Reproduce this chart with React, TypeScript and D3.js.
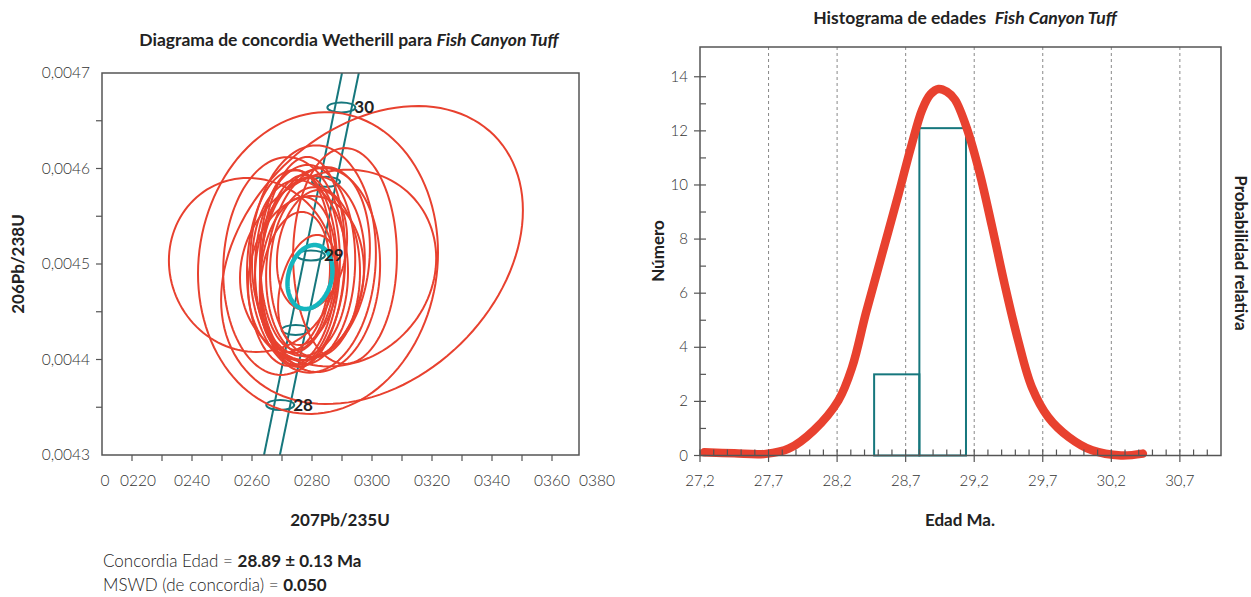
import { useEffect, useRef } from "react";
import * as d3 from "d3";

// ---- Concordia (left) ----
// red error ellipses: centre (207/235, 206/238), half-widths and correlation
const ellCx = [0.0300, 0.0282, 0.0260, 0.02707, 0.02803, 0.0291, 0.02887, 0.0276, 0.02777, 0.02793, 0.02753, 0.0281, 0.0277, 0.02827, 0.02743, 0.02787, 0.0280, 0.0276, 0.027333, 0.0282, 0.0278, 0.027467];
const ellCy = [0.0045094, 0.004501, 0.004499, 0.0044979, 0.0045052, 0.0045084, 0.0044958, 0.0044937, 0.004499, 0.0044958, 0.0044885, 0.0044916, 0.0045021, 0.0044937, 0.0044812, 0.0044728, 0.0045147, 0.0044958, 0.0044958, 0.0045021, 0.0044853, 0.0045042];
const ellSx = [0.00503, 0.0040, 0.00277, 0.00203, 0.0021, 0.00173, 0.00327, 0.00133, 0.00167, 0.00183, 0.00127, 0.0015, 0.0014, 0.0020, 0.00117, 0.0010, 0.00117, 0.0016, 0.0015, 0.00173, 0.00193, 0.0012];
const ellSy = [0.000156, 0.000158, 0.0000911, 0.000114, 0.000119, 0.000113, 0.000103, 0.0000995, 0.0001047, 0.0000963, 0.0000817, 0.000089, 0.00011, 0.0001068, 0.0000733, 0.0000576, 0.0000628, 0.0000921, 0.0001026, 0.0000995, 0.0000859, 0.0000942];
const ellRho = [0.3, 0.07, -0.05, 0.05, 0.05, 0.0, 0.1, 0.1, 0.05, 0.1, 0.15, 0.0, 0.1, 0.05, 0.2, 0.3, 0.2, -0.05, 0.05, 0.15, 0.1, 0.0];

// mean concordia ellipse
const meanEll = { cx: 0.027933, cy: 0.0044864, sx: 0.00075, sy: 0.0000335, rho: 0.2 };

// concordia band edges [x, y]
const bandLeft = [[0.0264, 0.0043], [0.0290, 0.0047]];
const bandRight = [[0.02693, 0.0043], [0.02956, 0.0047]];
const markerAges = [28, 28.5, 29, 29.5, 30];
const markerY = [0.0043524, 0.004431, 0.004509, 0.004586, 0.004664];

const xTickVals = d3.range(22, 37).map(v => v / 1000);
const xLabelText = ["0", "0220", "0240", "0260", "0280", "0300", "0320", "0340", "0360", "0380"];
const xLabelAt = [0.0211, 0.0222, 0.024, 0.026, 0.028, 0.030, 0.032, 0.034, 0.036, 0.0375];
const yTickVals = [0.00435, 0.0044, 0.00445, 0.0045, 0.00455, 0.0046, 0.00465];
const yLabelVals = [0.0043, 0.0044, 0.0045, 0.0046, 0.0047];

// ---- Histogram (right) ----
const binEdges = [28.47, 28.80, 29.14];
const binCounts = [3, 12.1];
const pdfAge = [27.23, 27.45, 27.68, 27.85, 28.03, 28.21, 28.31, 28.41, 28.53, 28.65, 28.74, 28.82, 28.88, 28.94, 29.0, 29.06, 29.15, 29.24, 29.33, 29.42, 29.52, 29.62, 29.74, 29.89, 30.06, 30.27, 30.43];
const pdfVal = [0.12, 0.08, 0.06, 0.26, 0.93, 2.04, 3.27, 5.26, 7.48, 9.7, 11.42, 12.78, 13.35, 13.55, 13.45, 13.15, 12.04, 10.44, 8.46, 6.37, 4.26, 2.53, 1.42, 0.68, 0.19, 0.0, 0.07];
const ageMajor = [27.2, 27.7, 28.2, 28.7, 29.2, 29.7, 30.2, 30.7];
const countMajor = [0, 2, 4, 6, 8, 10, 12, 14];

const RED = "#e8412f";
const TEAL = "#16777d";
const CYAN = "#15b6bf";
const AXIS = "#555";
const TXT = "#333";
const FONT = "Lato, 'Open Sans', sans-serif";

function ellipsePoints(cx: number, cy: number, sx: number, sy: number, rho: number) {
  const k = Math.sqrt(1 - rho * rho);
  return d3.range(0, 121).map(i => {
    const t = (i / 120) * Math.PI * 2;
    return [cx + sx * Math.cos(t), cy + sy * (rho * Math.cos(t) + k * Math.sin(t))];
  });
}

export default function App() {
  const svgRef = useRef<SVGSVGElement>(null);

  useEffect(() => {
    if (!svgRef.current) return;
    const svg = d3.select(svgRef.current);
    svg.selectAll("*").remove();

    // ===== left: concordia =====
    const x = d3.scaleLinear().domain([0.021, 0.0369]).range([102, 579]);
    const y = d3.scaleLinear().domain([0.0043, 0.0047]).range([455, 73]);

    svg.append("defs").append("clipPath").attr("id", "clipL")
      .append("rect").attr("x", 102).attr("y", 73).attr("width", 477).attr("height", 382);

    const L = svg.append("g");
    const plot = L.append("g").attr("clip-path", "url(#clipL)");
    const line = d3.line<number[]>().x(d => x(d[0])).y(d => y(d[1]));

    // band
    [bandLeft, bandRight].forEach(b => {
      plot.append("path").attr("d", line(b)).attr("fill", "none")
        .attr("stroke", TEAL).attr("stroke-width", 2);
    });

    // age markers on band
    const bandX = (yy: number) => {
      const f = (b: number[][]) => b[0][0] + (yy - b[0][1]) / (b[1][1] - b[0][1]) * (b[1][0] - b[0][0]);
      return (f(bandLeft) + f(bandRight)) / 2;
    };
    markerAges.forEach((a, i) => {
      const mx = x(bandX(markerY[i])) - 2;
      const my = y(markerY[i]);
      plot.append("ellipse").attr("cx", mx).attr("cy", my).attr("rx", 14).attr("ry", 5)
        .attr("fill", "none").attr("stroke", TEAL).attr("stroke-width", 2);
      if (a % 1 === 0) {
        L.append("text").attr("x", mx + 13).attr("y", my + 6)
          .attr("font-family", FONT).attr("font-weight", 700).attr("font-size", 17)
          .attr("fill", "#222").text(String(a));
      }
    });

    // red ellipses
    const closed = d3.line<number[]>().x(d => x(d[0])).y(d => y(d[1])).curve(d3.curveLinearClosed);
    ellCx.forEach((cx, i) => {
      plot.append("path").attr("d", closed(ellipsePoints(cx, ellCy[i], ellSx[i], ellSy[i], ellRho[i])))
        .attr("fill", "none").attr("stroke", RED).attr("stroke-width", 2);
    });

    // mean ellipse
    plot.append("path")
      .attr("d", closed(ellipsePoints(meanEll.cx, meanEll.cy, meanEll.sx, meanEll.sy, meanEll.rho)))
      .attr("fill", "none").attr("stroke", CYAN).attr("stroke-width", 4.5);

    // frame
    L.append("rect").attr("x", 102).attr("y", 73).attr("width", 477).attr("height", 382)
      .attr("fill", "none").attr("stroke", AXIS).attr("stroke-width", 1.5);

    xTickVals.forEach(v => {
      L.append("line").attr("x1", x(v)).attr("x2", x(v)).attr("y1", 455).attr("y2", 461)
        .attr("stroke", AXIS).attr("stroke-width", 1.2);
    });
    xLabelAt.forEach((v, i) => {
      L.append("text").attr("x", x(v)).attr("y", 486).attr("text-anchor", "middle")
        .attr("font-family", FONT).attr("font-weight", 300).attr("font-size", 15.5)
        .attr("fill", TXT).text(xLabelText[i]);
    });
    yTickVals.forEach(v => {
      L.append("line").attr("x1", 96).attr("x2", 102).attr("y1", y(v)).attr("y2", y(v))
        .attr("stroke", AXIS).attr("stroke-width", 1.2);
    });
    yLabelVals.forEach(v => {
      L.append("text").attr("x", 90).attr("y", y(v) + 5).attr("text-anchor", "end")
        .attr("font-family", FONT).attr("font-weight", 300).attr("font-size", 15.5)
        .attr("fill", TXT).text(v.toFixed(4).replace(".", ","));
    });

    L.append("text").attr("x", 340).attr("y", 526).attr("text-anchor", "middle")
      .attr("font-family", FONT).attr("font-weight", 700).attr("font-size", 17)
      .attr("fill", "#222").text("207Pb/235U");
    L.append("text").attr("transform", "translate(24,264) rotate(-90)").attr("text-anchor", "middle")
      .attr("font-family", FONT).attr("font-weight", 700).attr("font-size", 17)
      .attr("fill", "#222").text("206Pb/238U");

    const t1 = L.append("text").attr("x", 349).attr("y", 46).attr("text-anchor", "middle")
      .attr("font-family", FONT).attr("font-weight", 700).attr("font-size", 17.5).attr("fill", "#222");
    t1.append("tspan").text("Diagrama de concordia Wetherill para ");
    t1.append("tspan").attr("font-style", "italic").text("Fish Canyon Tuff");

    const n1 = L.append("text").attr("x", 103).attr("y", 567)
      .attr("font-family", FONT).attr("font-size", 17).attr("fill", "#222");
    n1.append("tspan").attr("font-weight", 300).text("Concordia Edad = ");
    n1.append("tspan").attr("font-weight", 700).text("28.89 ± 0.13 Ma");
    const n2 = L.append("text").attr("x", 103).attr("y", 591)
      .attr("font-family", FONT).attr("font-size", 17).attr("fill", "#222");
    n2.append("tspan").attr("font-weight", 300).text("MSWD (de concordia) = ");
    n2.append("tspan").attr("font-weight", 700).text("0.050");

    // ===== right: histogram =====
    const ax = d3.scaleLinear().domain([27.2, 31.0]).range([700, 1221]);
    const cy = d3.scaleLinear().domain([0, 15.1]).range([455.5, 47]);
    const R = svg.append("g");

    ageMajor.slice(1).forEach(v => {
      R.append("line").attr("x1", ax(v)).attr("x2", ax(v)).attr("y1", 47).attr("y2", 455.5)
        .attr("stroke", "#888").attr("stroke-width", 1).attr("stroke-dasharray", "3,3");
    });

    binCounts.forEach((c, i) => {
      R.append("rect").attr("x", ax(binEdges[i])).attr("y", cy(c))
        .attr("width", ax(binEdges[i + 1]) - ax(binEdges[i])).attr("height", cy(0) - cy(c))
        .attr("fill", "none").attr("stroke", TEAL).attr("stroke-width", 2);
    });

    const pdfLine = d3.line<number>().x((d, i) => ax(pdfAge[i])).y(d => cy(d)).curve(d3.curveCatmullRom);
    R.append("path").attr("d", pdfLine(pdfVal)).attr("fill", "none")
      .attr("stroke", RED).attr("stroke-width", 8.5).attr("stroke-linecap", "round").attr("stroke-linejoin", "round");

    R.append("rect").attr("x", 700).attr("y", 47).attr("width", 521).attr("height", 408.5)
      .attr("fill", "none").attr("stroke", AXIS).attr("stroke-width", 1.5);

    // x ticks
    d3.range(1, 38).map(i => 27.2 + i * 0.1).forEach(v => {
      const major = ageMajor.some(m => Math.abs(m - v) < 1e-6);
      if (major) return;
      R.append("line").attr("x1", ax(v)).attr("x2", ax(v)).attr("y1", 449.5).attr("y2", 455.5)
        .attr("stroke", AXIS).attr("stroke-width", 1.2);
    });
    ageMajor.forEach(v => {
      R.append("line").attr("x1", ax(v)).attr("x2", ax(v)).attr("y1", 449.5).attr("y2", 462)
        .attr("stroke", AXIS).attr("stroke-width", 1.2);
      R.append("text").attr("x", ax(v)).attr("y", 486).attr("text-anchor", "middle")
        .attr("font-family", FONT).attr("font-weight", 300).attr("font-size", 15)
        .attr("fill", TXT).text(v.toFixed(1).replace(".", ","));
    });
    // y ticks
    d3.range(1, 15, 2).forEach(v => {
      R.append("line").attr("x1", 700).attr("x2", 706).attr("y1", cy(v)).attr("y2", cy(v))
        .attr("stroke", AXIS).attr("stroke-width", 1.2);
    });
    countMajor.forEach(v => {
      R.append("line").attr("x1", 694).attr("x2", 706).attr("y1", cy(v)).attr("y2", cy(v))
        .attr("stroke", AXIS).attr("stroke-width", 1.2);
      R.append("text").attr("x", 688).attr("y", cy(v) + 5).attr("text-anchor", "end")
        .attr("font-family", FONT).attr("font-weight", 300).attr("font-size", 15)
        .attr("fill", TXT).text(String(v));
    });

    R.append("text").attr("x", 960).attr("y", 526).attr("text-anchor", "middle")
      .attr("font-family", FONT).attr("font-weight", 700).attr("font-size", 17)
      .attr("fill", "#222").text("Edad Ma.");
    R.append("text").attr("transform", "translate(664,251) rotate(-90)").attr("text-anchor", "middle")
      .attr("font-family", FONT).attr("font-weight", 700).attr("font-size", 17)
      .attr("fill", "#222").text("Número");
    R.append("text").attr("transform", "translate(1235,253) rotate(90)").attr("text-anchor", "middle")
      .attr("font-family", FONT).attr("font-weight", 700).attr("font-size", 17)
      .attr("fill", "#222").text("Probabilidad relativa");

    const t2 = R.append("text").attr("x", 965).attr("y", 24).attr("text-anchor", "middle")
      .attr("font-family", FONT).attr("font-weight", 700).attr("font-size", 17.5).attr("fill", "#222")
      .attr("xml:space", "preserve");
    t2.append("tspan").text("Histograma de edades  ");
    t2.append("tspan").attr("font-style", "italic").text("Fish Canyon Tuff");
  }, []);

  return (
    <svg ref={svgRef} width={1251} height={597}
      style={{ position: "absolute", left: 0, top: 0, background: "#fff" }} />
  );
}
